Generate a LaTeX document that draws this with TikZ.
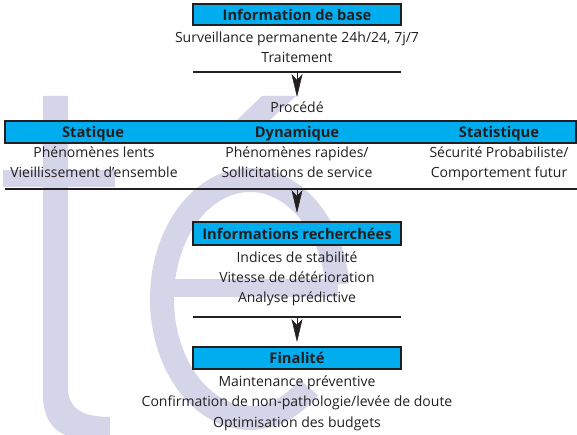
\documentclass[tikz,border=0pt]{standalone}
\usepackage{fontspec}
\setmainfont{Open Sans}
\usetikzlibrary{arrows.meta,calc}
\definecolor{cyanbox}{HTML}{00AEEF}
\definecolor{ink}{HTML}{231F20}
\definecolor{wmark}{RGB}{213,213,233}
\begin{document}
\begin{tikzpicture}[x=1pt,y=-1pt,
  hdr/.style={draw=ink, line width=1.2pt, fill=cyanbox, minimum width=208pt, minimum height=21pt, inner sep=0pt, font=\fontsize{14.7}{14.7}\selectfont\bfseries, text=ink},
  hdrtxt/.style={font=\fontsize{14.7}{14.7}\selectfont\bfseries, text=ink, inner sep=0pt, anchor=base},
  txt/.style={font=\fontsize{14}{14}\selectfont, text=ink, inner sep=0pt, anchor=base},
  rule/.style={draw=ink, line width=1.8pt},
  arr/.style={draw=ink, line width=0.5pt, -{Stealth[length=23pt,width=11pt,inset=6pt]}}
]
\useasboundingbox (0,0) rectangle (577,435);
% watermark
\begin{scope}
\clip (0,0) rectangle (577,435);
\fill[wmark] (43,96) -- (68,96) -- (68,388) .. controls (68,410) and (85,417) .. (110,417) -- (110,440) -- (92,440) .. controls (60,440) and (43,425) .. (43,395) -- cycle;
\fill[wmark] (3,170) rectangle (115,187);
\draw[wmark, line width=24pt] ($(250,299)+(7:88pt and 119pt)$) arc[start angle=7, end angle=312, x radius=88pt, y radius=119pt];
\fill[wmark] (162,279) rectangle (338,297);
\fill[wmark] (262,96) -- (296,96) -- (246,142) -- (214,142) -- cycle;
\end{scope}
% block 1
\node[hdr] (base) at (297,14.5) {Information de base};
\node[txt] (surv) at (297,42.5) {Surveillance permanente 24h/24, 7j/7};
\node[txt] (trait) at (297,63) {Traitement};
\coordinate (r1l) at (193,72); \coordinate (r1r) at (401,72);
\draw[rule] (r1l) -- (r1r);
\coordinate (r1) at (297,72); \coordinate (a1) at (297,97);
\draw[arr] (r1) -- (a1);
\node[txt] (proc) at (297,113) {Procédé};
% wide bar
\node[hdr, minimum width=571pt, minimum height=22pt] (bar) at (290.5,132) {};
\node[hdrtxt] (stat) at (93,137.5) {Statique};
\node[hdrtxt] (dyn) at (297,137.5) {Dynamique};
\node[hdrtxt] (stst) at (499,137.5) {Statistique};
\node[txt] (s1) at (94,158) {Phénomènes lents};
\node[txt] (s2) at (94,178) {Vieillissement d’ensemble};
\node[txt] (d1) at (297,158) {Phénomènes rapides/};
\node[txt] (d2) at (297,178) {Sollicitations de service};
\node[txt] (t1) at (499,158) {Sécurité Probabiliste/};
\node[txt] (t2) at (499,178) {Comportement futur};
\coordinate (r2l) at (5,189); \coordinate (r2r) at (577,189);
\draw[rule] (r2l) -- (r2r);
\coordinate (r2) at (297,189); \coordinate (a2) at (297,213);
\draw[arr] (r2) -- (a2);
% block 3
\node[hdr, minimum height=23pt] (info) at (297,233.5) {Informations recherchées};
\node[txt] (i1) at (297,262) {Indices de stabilité};
\node[txt] (i2) at (297,282.5) {Vitesse de détérioration};
\node[txt] (i3) at (297,302.5) {Analyse prédictive};
\coordinate (r3l) at (193,317); \coordinate (r3r) at (401,317);
\draw[rule] (r3l) -- (r3r);
\coordinate (r3) at (297,317); \coordinate (a3) at (297,342);
\draw[arr] (r3) -- (a3);
% block 4
\node[hdr, minimum height=22pt] (fin) at (297,358) {Finalité};
\node[txt] (f1) at (297,386) {Maintenance préventive};
\node[txt] (f2) at (297,406.5) {Confirmation de non-pathologie/levée de doute};
\node[txt] (f3) at (297,427) {Optimisation des budgets};
\end{tikzpicture}
\end{document}
